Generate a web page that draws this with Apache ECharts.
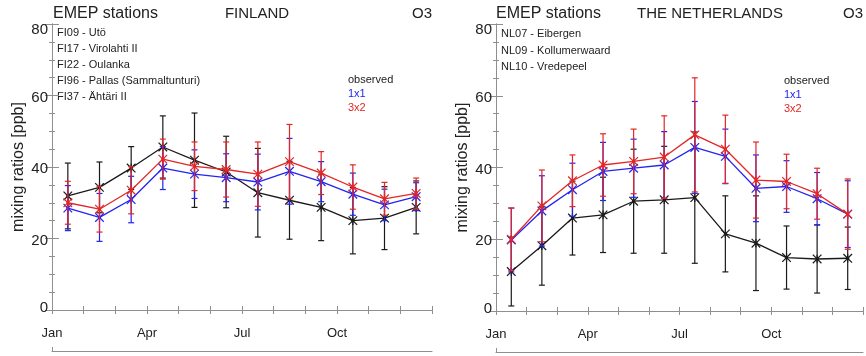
<!DOCTYPE html>
<html><head><meta charset="utf-8">
<script src="https://cdn.jsdelivr.net/npm/echarts@6/dist/echarts.min.js"></script>
<style>html,body{margin:0;padding:0;background:#fff}#c{width:866px;height:356px}</style>
</head><body><div id="c"></div>
<script>
// ---- data ----
const monthTicks = {0:'Jan',3:'Apr',6:'Jul',9:'Oct'};
const months = [0.5,1.5,2.5,3.5,4.5,5.5,6.5,7.5,8.5,9.5,10.5,11.5];
const yTicks = [0,20,40,60,80];

const fiStations = ['FI09 - Utö','FI17 - Virolahti II','FI22 - Oulanka','FI96 - Pallas (Sammaltunturi)','FI37 - Ähtäri II'];
const fiObs    = [31.9,34.3,39.7,45.6,41.9,38.6,32.8,30.7,28.7,25.0,25.7,28.7];
const fiObsSd  = [9.2,7.1,6.0,8.7,13.2,10.0,12.4,10.9,9.3,9.3,8.8,7.4];
const fi1x1    = [28.5,25.9,30.9,39.7,38.0,37.0,35.8,38.8,35.9,32.4,29.4,31.7];
const fi1x1Sd  = [6.3,6.7,6.5,6.0,6.8,6.7,7.8,9.2,5.6,5.9,4.4,3.9];
const fi3x2    = [30.0,28.2,33.5,42.2,40.2,39.3,38.0,41.5,38.3,34.4,31.1,32.6];
const fi3x2Sd  = [6.0,6.4,6.6,5.6,6.8,7.7,9.0,10.4,6.0,6.2,4.6,4.3];

const nlStations = ['NL07 - Eibergen','NL09 - Kollumerwaard','NL10 - Vredepeel'];
const nlObs    = [11.0,18.2,25.9,26.8,30.6,31.0,31.6,21.5,18.9,14.9,14.5,14.7];
const nlObsSd  = [9.6,11.0,10.3,10.5,14.5,14.9,18.3,10.6,13.2,8.8,9.5,8.7];
const nl1x1    = [19.8,27.9,33.8,38.9,39.8,40.7,45.6,43.1,34.2,34.7,31.3,27.0];
const nl1x1Sd  = [8.9,9.8,7.4,8.1,8.1,9.3,12.8,7.6,9.3,7.2,7.3,9.3];
const nl3x2    = [20.0,29.3,36.3,40.7,41.7,42.9,49.1,45.1,36.5,36.1,32.7,27.0];
const nl3x2Sd  = [8.7,10.0,7.2,8.7,9.0,11.5,15.9,9.5,10.6,7.6,7.1,9.8];

const colObs = '#1a1a1a', col1x1 = '#2424f0', col3x2 = '#e32626';
const axisCol = '#8f8f8f', textCol = '#222';
const FONT = '"Liberation Sans", Arial, Helvetica, sans-serif';

// ---- build ----
function xAxes(grid) {
  return [
    {gridIndex:grid, type:'value', min:0, max:12, interval:1, position:'bottom',
     axisLine:{show:true, lineStyle:{color:axisCol}},
     axisTick:{show:true, inside:true, length:4, lineStyle:{color:axisCol}},
     axisLabel:{show:true, margin:17, color:textCol, fontSize:13, fontFamily:FONT,
       formatter:v=> monthTicks[v] !== undefined ? monthTicks[v] : ''},
     splitLine:{show:false}},
    {gridIndex:grid, type:'value', min:0, max:12, interval:1, position:'top',
     axisLine:{show:true, lineStyle:{color:axisCol}},
     axisTick:{show:true, inside:true, length:4, lineStyle:{color:axisCol}},
     axisLabel:{show:false}, splitLine:{show:false}},
    {gridIndex:grid, type:'value', min:0, max:12, interval:12, position:'bottom', offset:41,
     axisLine:{show:true, lineStyle:{color:axisCol}},
     axisTick:{show:true, inside:true, length:4, customValues:[0], lineStyle:{color:axisCol}},
     axisLabel:{show:false}, splitLine:{show:false}}
  ];
}
function yAxes(grid) {
  return [
    {gridIndex:grid, type:'value', min:0, max:80, interval:20, position:'left',
     name:'mixing ratios [ppb]', nameLocation:'middle', nameGap:25,
     nameTextStyle:{fontSize:16, color:textCol, fontFamily:FONT},
     axisLine:{show:true, lineStyle:{color:axisCol}},
     axisTick:{show:true, inside:true, length:7, lineStyle:{color:axisCol}},
     minorTick:{show:true, splitNumber:4, length:3, lineStyle:{color:axisCol}},
     axisLabel:{show:true, margin:4, color:textCol, fontSize:15, fontFamily:FONT,
       formatter:v=> v===80 ? '{t|80}' : (v===0 ? '{z|0}' : '{m|'+v+'}'),
       rich:{t:{padding:[12,0,0,0], fontSize:15, fontFamily:FONT, color:textCol},
             m:{padding:[4,0,0,0], fontSize:15, fontFamily:FONT, color:textCol},
             z:{padding:[0,0,5,0], fontSize:15, fontFamily:FONT, color:textCol}}},
     splitLine:{show:false}},
    {gridIndex:grid, type:'value', min:0, max:80, interval:20, position:'right',
     axisLine:{show:true, lineStyle:{color:axisCol}},
     axisTick:{show:true, inside:true, length:7, lineStyle:{color:axisCol}},
     minorTick:{show:true, splitNumber:4, length:3, lineStyle:{color:axisCol}},
     axisLabel:{show:false}, splitLine:{show:false}}
  ];
}

function seriesFor(xi, yi, mean, sd, color, z) {
  const pts = months.map((m,i)=>[m, mean[i]]);
  const bars = months.map((m,i)=>[m, mean[i], mean[i]-sd[i], mean[i]+sd[i]]);
  return [
    {type:'line', xAxisIndex:xi, yAxisIndex:yi, data:pts, symbol:'none',
     lineStyle:{color:color, width:1.3}, z:z, silent:true, animation:false},
    {type:'custom', xAxisIndex:xi, yAxisIndex:yi, data:bars, z:z+1, animation:false,
     encode:{x:0, y:[1,2,3]},
     renderItem:(params, api)=>{
       const x = api.value(0);
       const pm = api.coord([x, api.value(1)]);
       const pl = api.coord([x, api.value(2)]);
       const ph = api.coord([x, api.value(3)]);
       const cap = 3, s = 4.3;
       const st = {stroke:color, lineWidth:1.2};
       const L = (x1,y1,x2,y2)=>({type:'line', shape:{x1,y1,x2,y2}, style:st});
       return {type:'group', children:[
         L(pl[0],pl[1],ph[0],ph[1]),
         L(pl[0]-cap,pl[1],pl[0]+cap,pl[1]),
         L(ph[0]-cap,ph[1],ph[0]+cap,ph[1]),
         L(pm[0]-s,pm[1]-s,pm[0]+s,pm[1]+s),
         L(pm[0]-s,pm[1]+s,pm[0]+s,pm[1]-s),
         L(pm[0],pm[1]-s,pm[0],pm[1]+s),
         {type:'rect', shape:{x:pm[0]-1.5,y:pm[1]-1.5,width:3,height:3}, style:{fill:color}}
       ]};
     }}
  ];
}

const xA = xAxes(0).concat(xAxes(1));
const yA = yAxes(0).concat(yAxes(1));

const series = [].concat(
  seriesFor(0,0,fiObs,fiObsSd,colObs,2),
  seriesFor(0,0,fi1x1,fi1x1Sd,col1x1,4),
  seriesFor(0,0,fi3x2,fi3x2Sd,col3x2,6),
  seriesFor(3,2,nlObs,nlObsSd,colObs,2),
  seriesFor(3,2,nl1x1,nl1x1Sd,col1x1,4),
  seriesFor(3,2,nl3x2,nl3x2Sd,col3x2,6)
);

function txt(x,y,text,opts){
  return {type:'text', x:x, y:y, silent:true, style:Object.assign({text:text, fill:textCol, font:'15px '+FONT}, opts||{})};
}
const legendRich = {k:{fill:colObs, fontSize:11, fontFamily:FONT, lineHeight:14},
                    b:{fill:col1x1, fontSize:11, fontFamily:FONT, lineHeight:14},
                    r:{fill:col3x2, fontSize:11, fontFamily:FONT, lineHeight:14}};

const graphic = [
  txt(53,14,'EMEP stations',{verticalAlign:'middle', font:'16px '+FONT}),
  txt(257,14,'FINLAND',{align:'center', verticalAlign:'middle'}),
  txt(432,14,'O3',{align:'right', verticalAlign:'middle'}),
  txt(57,25,fiStations.join('\n'),{font:'11px '+FONT, lineHeight:16, verticalAlign:'top'}),
  txt(348,73,'{k|observed}\n{b|1x1}\n{r|3x2}',{rich:legendRich, verticalAlign:'top'}),
  txt(496,14,'EMEP stations',{verticalAlign:'middle', font:'16px '+FONT}),
  txt(710,14,'THE NETHERLANDS',{align:'center', verticalAlign:'middle'}),
  txt(863,14,'O3',{align:'right', verticalAlign:'middle'}),
  txt(501,26,nlStations.join('\n'),{font:'11px '+FONT, lineHeight:16.5, verticalAlign:'top'}),
  txt(784,74,'{k|observed}\n{b|1x1}\n{r|3x2}',{rich:legendRich, verticalAlign:'top'})
];

const chart = echarts.init(document.getElementById('c'), null, {renderer:'canvas'});
chart.setOption({
  animation:false,
  backgroundColor:'#fff',
  grid:[{left:52, top:24, width:380, height:286},
        {left:496, top:24, width:369, height:287}],
  xAxis:xA, yAxis:yA, series:series, graphic:graphic
});
</script></body></html>
